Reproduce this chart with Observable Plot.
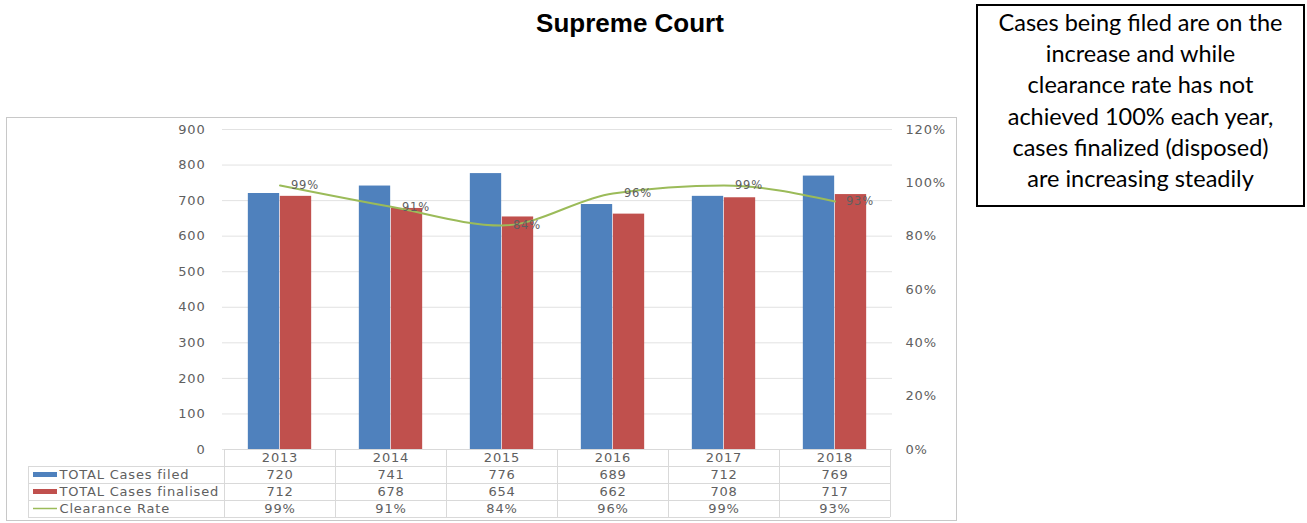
<!DOCTYPE html>
<html><head><meta charset="utf-8">
<script src="https://cdn.jsdelivr.net/npm/d3@7"></script>
<script src="https://cdn.jsdelivr.net/npm/@observablehq/plot@0.6"></script>
<style>
body{margin:0;background:#fff;width:1307px;height:523px;position:relative;overflow:hidden;}
#title{position:absolute;left:430px;width:400px;top:10px;text-align:center;font:bold 26px/26px "Liberation Sans",Arial,sans-serif;color:#000;}
#note{position:absolute;left:976px;top:4px;width:329px;height:203px;box-sizing:border-box;border:2px solid #000;text-align:center;font-family:Lato,"Open Sans",sans-serif;font-size:23.5px;line-height:31.2px;padding-top:1px;color:#000;}
#frame{position:absolute;left:6px;top:117px;width:951px;height:404px;box-sizing:border-box;border:1.5px solid #c8c8c8;}
#chart{position:absolute;left:6px;top:117px;}
#chart svg text{letter-spacing:0.8px;}
</style></head><body>
<div id="title">Supreme Court</div>
<div id="note">Cases being filed are on the<br>increase and while<br>clearance rate has not<br>achieved 100% each year,<br>cases finalized (disposed)<br>are increasing steadily</div>
<div id="frame"></div>
<div id="chart"></div>
<script>
const years = ["2013","2014","2015","2016","2017","2018"];
const filed = [720,741,776,689,712,769];
const finalised = [712,678,654,662,708,717];
const clearance = [99,91,84,96,99,93];
const leftTicks = [0,100,200,300,400,500,600,700,800,900];
const rightTicks = [0,20,40,60,80,100,120];
const rowLabels = ["TOTAL Cases filed","TOTAL Cases finalised","Clearance Rate"];
const colors = {filed:"#4f81bd", finalised:"#c0504d", rate:"#9bbb59"};

const rows = years.map((year,i)=>({year, filed:filed[i], finalised:finalised[i], rate:clearance[i]}));
const LEFT_MAX = 900, RIGHT_MAX = 120, k = LEFT_MAX/RIGHT_MAX;

const W = 951, H = 404, mL = 216, mR = 65, mT = 12, mB = 72;
const bw = (W - mL - mR)/years.length;
const barW = 32;
const rowDy = [8.5, 25.5, 42.5, 59.5];
const txt = "#606060";

const cell = (text, r) => Plot.text(rows, {x:"year", text, frameAnchor:"bottom", lineAnchor:"middle", dy:rowDy[r], fontSize:13, fill:txt});

const marks = [
  Plot.gridY(leftTicks, {stroke:"#e2e2e2", strokeOpacity:1}),
  Plot.axisY(leftTicks, {anchor:"left", tickSize:0, tickPadding:17, label:null, fontSize:13}),
  Plot.axisY(rightTicks.map(d=>d*k), {anchor:"right", tickSize:0, tickPadding:13, label:null, fontSize:13, tickFormat:d=>Math.round(d/k)+"%"}),
  Plot.barY(rows, {x:"year", y:"filed", fill:colors.filed, insetLeft:bw/2-barW, insetRight:bw/2}),
  Plot.barY(rows, {x:"year", y:"finalised", fill:colors.finalised, insetLeft:bw/2, insetRight:bw/2-barW}),
  Plot.line(rows, {x:"year", y:d=>d.rate*k, stroke:colors.rate, strokeWidth:2, curve:"monotone-x"}),
  Plot.text(rows, {x:"year", y:d=>d.rate*k, text:d=>d.rate+"%", textAnchor:"start", dx:11, fontSize:11.5, fill:txt}),
  cell("year", 0),
  cell(d=>String(d.filed), 1),
  cell(d=>String(d.finalised), 2),
  cell(d=>d.rate+"%", 3),
  ...rowLabels.map((lab,i)=>Plot.text([lab], {text:d=>d, frameAnchor:"bottom-left", lineAnchor:"middle", textAnchor:"start", dx:53-mL, dy:rowDy[i+1], fontSize:13, fill:txt}))
];

const plot = Plot.plot({
  width:W, height:H, marginLeft:mL, marginRight:mR, marginTop:mT, marginBottom:mB,
  style:{fontFamily:"DejaVu Sans", color:txt, background:"transparent", overflow:"visible"},
  x:{type:"band", domain:years, padding:0, axis:null},
  y:{domain:[0,LEFT_MAX], axis:null},
  marks
});
document.getElementById("chart").appendChild(plot);

// table grid + legend swatches, positioned with the plot's own scales
const xs = plot.scale("x");
const svg = d3.select(plot);
const g = svg.append("g").attr("stroke","#d9d9d9").attr("stroke-width",1).attr("fill","none");
const yb = H - mB;
const rowH = 17;
const xLeft = 22;
const bounds = years.map(y=>xs.apply(y)).concat([xs.apply(years[years.length-1]) + xs.bandwidth]);
g.append("line").attr("x1",bounds[0]).attr("x2",bounds[bounds.length-1]).attr("y1",yb+0.5).attr("y2",yb+0.5);
for (let r=1;r<=4;r++) g.append("line").attr("x1",xLeft).attr("x2",bounds[bounds.length-1]).attr("y1",yb+r*rowH+0.5).attr("y2",yb+r*rowH+0.5);
bounds.forEach(b=>g.append("line").attr("x1",b+0.5).attr("x2",b+0.5).attr("y1",yb).attr("y2",yb+4*rowH));
g.append("line").attr("x1",xLeft+0.5).attr("x2",xLeft+0.5).attr("y1",yb+rowH).attr("y2",yb+4*rowH);
const sw = svg.append("g");
[colors.filed, colors.finalised].forEach((c,i)=>{
  sw.append("rect").attr("x",27).attr("width",24).attr("y",yb+rowDy[i+1]-2.5).attr("height",5).attr("fill",c);
});
sw.append("line").attr("x1",27).attr("x2",51).attr("y1",yb+rowDy[3]).attr("y2",yb+rowDy[3]).attr("stroke",colors.rate).attr("stroke-width",1.5);
</script>
</body></html>
